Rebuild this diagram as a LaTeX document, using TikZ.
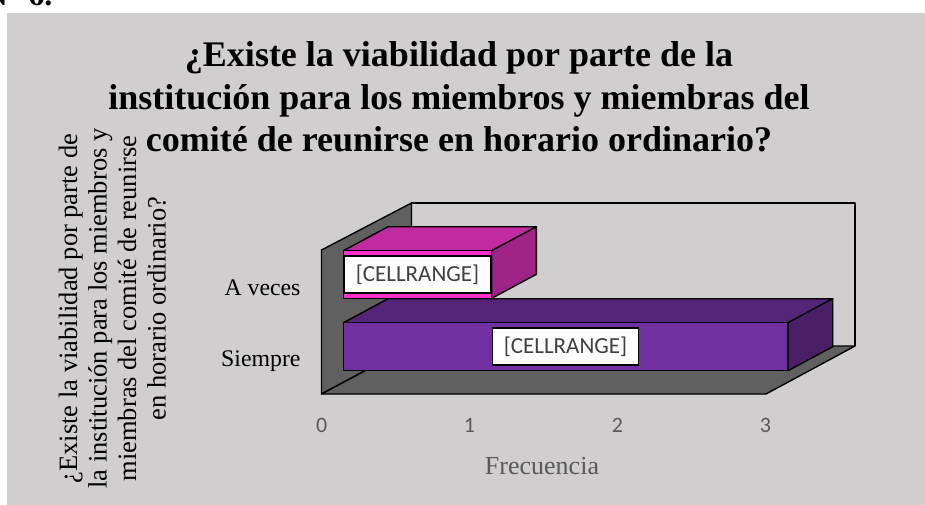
\documentclass[tikz,border=0pt]{standalone}
\usepackage{fontspec}
\setmainfont{Liberation Serif}
\newfontfamily\calib{Carlito}
\definecolor{bgc}{HTML}{D0CECE}
\definecolor{wallc}{HTML}{606060}
\definecolor{sfront}{HTML}{7030A0}
\definecolor{stop}{HTML}{532477}
\definecolor{sside}{HTML}{4A1F67}
\definecolor{afront}{HTML}{FF33CC}
\definecolor{atop}{HTML}{C12AA0}
\definecolor{aside}{HTML}{A02488}
\definecolor{lblc}{HTML}{404040}
\definecolor{tickc}{HTML}{595959}
\begin{document}
\begin{tikzpicture}[x=1pt,y=-1pt,
  face/.style={draw=black,line width=1.4pt,line join=round},
  lbl/.style={draw=black,fill=white,line width=1.5pt,inner sep=0pt,minimum width=146pt,minimum height=37pt,font=\calib\fontsize{23}{25}\selectfont,text=lblc},
  cat/.style={font=\fontsize{23.8}{26}\selectfont,anchor=base east,inner sep=0pt},
  tick/.style={font=\calib\fontsize{22}{24}\selectfont,text=tickc}]
\useasboundingbox (0,0) rectangle (925,505);
\fill[bgc] (7,13) rectangle (925,505);
\node[font=\bfseries\fontsize{32}{36}\selectfont,anchor=base east] (num) at (56,6) {N° 6.};
% walls
\coordinate (FL) at (321.5,394);
\coordinate (FR) at (766,394);
\coordinate (BR) at (855,346);
\coordinate (BL) at (411.5,346);
\coordinate (BLT) at (411.5,203);
\coordinate (FLT) at (321.5,250);
\coordinate (BRT) at (855,203);
\draw[face,fill=bgc] (BL) -- (BLT) -- (BRT) -- (BR);
\draw[face,fill=wallc] (FL) -- (FLT) -- (BLT) -- (BL) -- cycle;
\draw[face,fill=wallc] (FL) -- (FR) -- (BR) -- (BL) -- cycle;
% Siempre bar
\draw[face,fill=stop] (343.4,322.7) -- (788,322.7) -- (832.7,298.7) -- (388.1,298.7) -- cycle;
\draw[face,fill=sside] (788,322.7) -- (832.7,298.7) -- (832.7,346.7) -- (788,370.7) -- cycle;
\draw[face,fill=sfront] (343.4,322.7) rectangle (788,370.7);
% A veces bar
\draw[face,fill=atop] (343.4,250.7) -- (491.7,250.7) -- (536.4,226.7) -- (388.1,226.7) -- cycle;
\draw[face,fill=aside] (491.7,250.7) -- (536.4,226.7) -- (536.4,274.3) -- (491.7,298.3) -- cycle;
\draw[face,fill=afront] (343.4,250.7) rectangle (491.7,298.3);
% data labels
\node[lbl] (la) at (417.5,274.7) {[CELLRANGE]};
\node[lbl] (ls) at (565.5,346.3) {[CELLRANGE]};
% category labels
\node[cat] (ca) at (300.7,295) {A veces};
\node[cat] (cs) at (300.7,366) {Siempre};
% ticks
\node[tick] (t0) at (321.7,425.3) {0};
\node[tick] (t1) at (469.5,425.3) {1};
\node[tick] (t2) at (617.5,425.3) {2};
\node[tick] (t3) at (765.5,425.3) {3};
\node[font=\fontsize{26}{28}\selectfont,text=tickc] (xt) at (542,466) {Frecuencia};
% title
\node[font=\bfseries\fontsize{36}{42.5}\selectfont,align=center,anchor=base] (title) at (459,151.7) {¿Existe la viabilidad por parte de la\\institución para los miembros y miembras del\\comité de reunirse en horario ordinario?};
% y axis title
\node[font=\fontsize{26.5}{29.5}\selectfont,align=center,anchor=base,rotate=90] (yt) at (165.5,308.5) {¿Existe la viabilidad por parte de\\la institución para los miembros y\\miembras del comité de reunirse\\en horario ordinario?};
\end{tikzpicture}
\end{document}
